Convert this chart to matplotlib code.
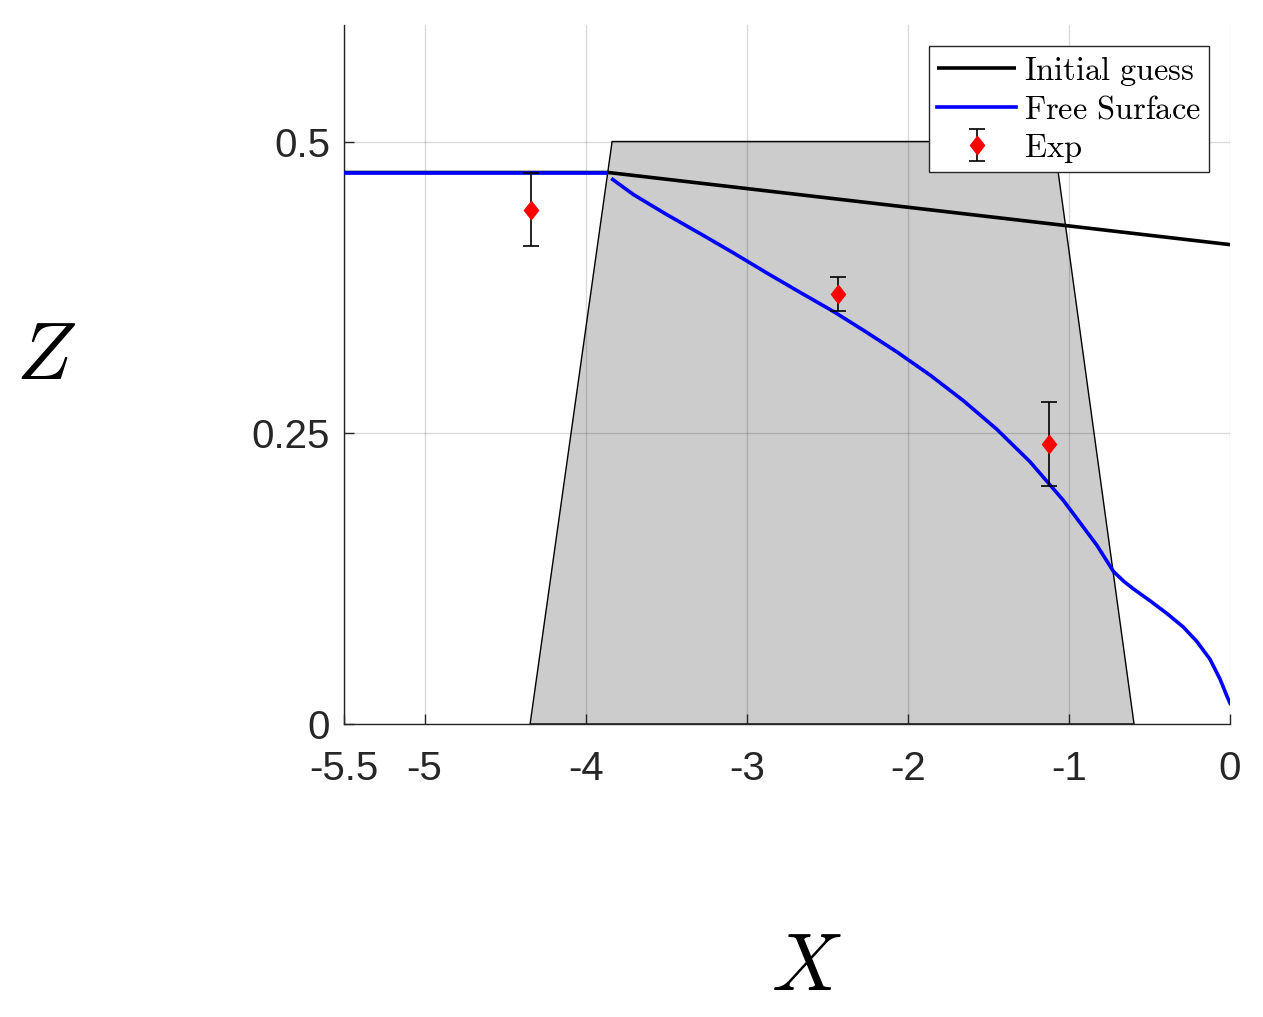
import matplotlib
matplotlib.use("Agg")
import matplotlib.pyplot as plt
import numpy as np
from matplotlib.patches import Polygon

# ---- data ----
x_ticks = [-5.5, -5, -4, -3, -2, -1, 0]
x_tick_labels = ['-5.5', '-5', '-4', '-3', '-2', '-1', '0']
y_ticks = [0, 0.25, 0.5]
y_tick_labels = ['0', '0.25', '0.5']

obstacle_x = [-4.345, -3.836, -1.093, -0.596]
obstacle_z = [0.0, 0.5, 0.5, 0.0]

guess_x = [-5.5, -3.859, 0.0]
guess_z = [0.4734, 0.4734, 0.4115]

upstream_x = [-5.5, -3.859]
upstream_z = [0.4734, 0.4734]

surf_x = [-3.832, -3.704, -3.497, -3.290, -3.083, -2.876, -2.669, -2.463, -2.276,
          -2.069, -1.862, -1.655, -1.448, -1.241, -1.035, -0.827, -0.724,
          -0.660, -0.600, -0.497, -0.393, -0.290, -0.207, -0.124, -0.062, -0.021, 0.0]
surf_z = [0.4674, 0.4545, 0.4373, 0.4210, 0.4044, 0.3872, 0.3705, 0.3542, 0.3380,
          0.3195, 0.2995, 0.2775, 0.2530, 0.2250, 0.1920, 0.1535, 0.1310,
          0.1225, 0.1160, 0.1058, 0.0950, 0.0832, 0.0710, 0.0555, 0.0385, 0.0245, 0.0178]

exp_x = [-4.339, -2.434, -1.124]
exp_z = [0.4416, 0.369, 0.2405]
exp_err = [0.0315, 0.0145, 0.036]

# ---- figure ----
plt.rcParams['mathtext.fontset'] = 'cm'
fig = plt.figure(figsize=(12.63, 10.17), dpi=100)
ax = fig.add_axes([0.2724, 0.2881, 0.7015, 0.6873])

poly = Polygon(np.column_stack([obstacle_x, obstacle_z]), closed=True,
               facecolor='#cccccc', edgecolor='black', linewidth=1.0, zorder=1)
ax.add_patch(poly)

ax.plot(guess_x, guess_z, color='black', lw=2.6, zorder=3,
        solid_capstyle='butt', label=r'$\mathrm{Initial\ guess}$')
ax.plot(upstream_x, upstream_z, color='#0000ff', lw=2.6, zorder=4, solid_capstyle='butt')
ax.plot(surf_x, surf_z, color='#0000ff', lw=2.6, zorder=4,
        label=r'$\mathrm{Free\ Surface}$')

diamond = [(0, 1), (0.78, 0), (0, -1), (-0.78, 0), (0, 1)]
ax.errorbar(exp_x, exp_z, yerr=exp_err, fmt='none', ecolor='black',
            elinewidth=1.2, capsize=6, capthick=1.2, zorder=5)
ax.plot(exp_x, exp_z, linestyle='none', marker=diamond, markersize=13,
        color='red', markeredgecolor='red', zorder=6)
# legend proxy (errorbar with diamond)
h_exp = ax.errorbar([np.nan], [np.nan], yerr=[0.01], fmt='none', ecolor='black',
                    elinewidth=1.2, capsize=6, capthick=1.2, label=r'$\mathrm{Exp}$')
h_mark, = ax.plot([np.nan], [np.nan], linestyle='none', marker=diamond, markersize=13,
                  color='red', markeredgecolor='red')

ax.set_xlim(-5.5, 0)
ax.set_ylim(0, 0.6)
ax.set_xticks(x_ticks)
ax.set_xticklabels(x_tick_labels)
ax.set_yticks(y_ticks)
ax.set_yticklabels(y_tick_labels)
ax.grid(True, color='black', alpha=0.15, lw=1.0, zorder=2)
ax.set_axisbelow(False)

for s in ['top', 'right']:
    ax.spines[s].set_visible(False)
for s in ['left', 'bottom']:
    ax.spines[s].set_color('#262626')
    ax.spines[s].set_linewidth(1.0)
ax.tick_params(direction='in', length=7, width=1.0, color='#262626',
               labelcolor='#262626', labelsize=29)
ax.tick_params(axis='x', pad=19)
ax.tick_params(axis='y', pad=10)
for lbl in ax.get_xticklabels() + ax.get_yticklabels():
    lbl.set_family('Liberation Sans')

fig.text(46/1263, 1 - 357/1017, r'$Z$', fontsize=58, ha='center', va='center')
fig.text(806/1263, 1 - 968/1017, r'$X$', fontsize=58, ha='center', va='center')

lines = ax.get_lines()
h_guess = [l for l in lines if l.get_label() == r'$\mathrm{Initial\ guess}$'][0]
h_surf = [l for l in lines if l.get_label() == r'$\mathrm{Free\ Surface}$'][0]
leg = ax.legend([h_guess, h_surf, (h_exp, h_mark)],
                [r'$\mathrm{Initial\ guess}$', r'$\mathrm{Free\ Surface}$', r'$\mathrm{Exp}$'],
                loc='upper right', fontsize=23.4, frameon=True, fancybox=False,
                framealpha=1, edgecolor='#262626', handlelength=2.45,
                handletextpad=0.25, borderpad=0.24, labelspacing=0.2,
                borderaxespad=0.64)
leg.get_frame().set_linewidth(1.0)

fig.savefig('out.png', dpi=100)
